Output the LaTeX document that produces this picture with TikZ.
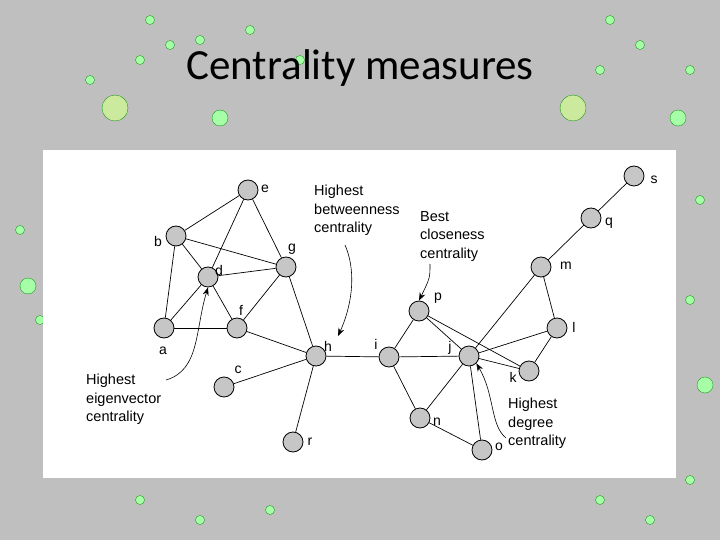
\documentclass[tikz,border=0pt]{standalone}
\usepackage{fontspec}
\setmainfont{Liberation Sans}
\newfontfamily\titlefont{Carlito}
\usetikzlibrary{arrows.meta}
\begin{document}
\begin{tikzpicture}[x=1pt,y=-1pt,
  vtx/.style={circle,draw=black,fill=gray!45,minimum size=20pt,inner sep=0pt,line width=0.8pt},
  lbl/.style={font=\fontsize{14}{15}\selectfont},
  ann/.style={font=\fontsize{14.5}{18.5}\selectfont,align=left,anchor=north west,inner sep=0pt},
  edge/.style={line width=0.7pt},
  arr/.style={line width=0.6pt,-{Stealth[length=8pt,width=6pt]}},
  deco/.style={circle,fill=green!35!white,draw=green!55!black,line width=0.3pt,inner sep=0pt,minimum size=9pt}]
\useasboundingbox (0,0) rectangle (720,540);
\fill[gray!50] (0,0) rectangle (720,540);
% faint decorations
\node[deco,minimum size=26pt,fill=yellow!50!green!40] (y1) at (115,108) {};
\node[deco,minimum size=26pt,fill=yellow!50!green!40] (y2) at (573,108) {};
\node[deco,minimum size=16pt] (g1) at (220,118) {};
\node[deco,minimum size=16pt] (g2) at (678,118) {};
\node[deco,minimum size=16pt] (g3) at (28,286) {};
\node[deco,minimum size=16pt] (g4) at (705,385) {};
\foreach \x/\y in {150/20,170/45,140/60,200/40,250/30,300/60,90/80,610/20,640/45,600/70,690/70,20/230,40/320,700/200,690/300,140/500,200/520,270/510,600/500,650/520,690/480}
  \node[deco] at (\x,\y) {};
\node[font=\titlefont\fontsize{43}{45}\selectfont] (title) at (360,68) {Centrality measures};
\fill[white] (43,150) rectangle (676,478);
% vertices
\node[vtx] (e) at (248,190) {};
\node[vtx] (b) at (176,236) {};
\node[vtx] (g) at (286,267) {};
\node[vtx] (d) at (208,277) {};
\node[vtx] (f) at (237,328) {};
\node[vtx] (a) at (164,328) {};
\node[vtx] (c) at (224,387) {};
\node[vtx] (h) at (316,356) {};
\node[vtx] (r) at (293,442) {};
\node[vtx] (i) at (389,357) {};
\node[vtx] (p) at (419,311) {};
\node[vtx] (j) at (469,356) {};
\node[vtx] (n) at (420,418) {};
\node[vtx] (o) at (482,450) {};
\node[vtx] (k) at (529,371) {};
\node[vtx] (l) at (557,328) {};
\node[vtx] (m) at (541,267) {};
\node[vtx] (q) at (591,218) {};
\node[vtx] (s) at (634,176) {};
% labels
\foreach \n/\x/\y in {e/265/189,b/158/241,g/292/249,d/219/270,f/241/310,a/163/351,c/238/370,h/328/346,r/310/442,i/376/344,p/438/298,j/450/348,n/437/422,o/499/447,k/513/377,l/574/327,m/566/266,q/609/223,s/654/180}
  \node[lbl] (L\n) at (\x,\y) {\n};
% edges
\foreach \u/\v in {e/b,e/d,e/g,b/g,b/d,b/a,d/a,d/f,d/g,a/f,g/f,g/h,f/h,c/h,h/r,h/i,i/p,i/j,i/n,p/j,p/k,j/n,j/o,n/o,j/l,j/k,j/m,k/l,m/l,m/q,q/s}
  \draw[edge] (\u) -- (\v);
% annotations
\node[ann] (t1) at (314,185) {Highest\\betweenness\\centrality};
\node[ann] (t2) at (420,211) {Best\\closeness\\centrality};
\node[ann] (t3) at (86,374) {Highest\\eigenvector\\centrality};
\node[ann] (t4) at (508,398) {Highest\\degree\\centrality};
\coordinate (s1) at (345,245);
\coordinate (s2) at (430,264);
\coordinate (s3) at (166,380);
\coordinate (s4) at (506,438);
\draw[arr] (s1) .. controls (358,275) and (350,310) .. (338,336);
\draw[arr] (s2) .. controls (430,278) .. (p.north);
\draw[arr] (s3) .. controls (200,370) and (195,330) .. (d.south);
\draw[arr] (s4) .. controls (490,425) and (495,395) .. (j.south east);
\end{tikzpicture}
\end{document}
